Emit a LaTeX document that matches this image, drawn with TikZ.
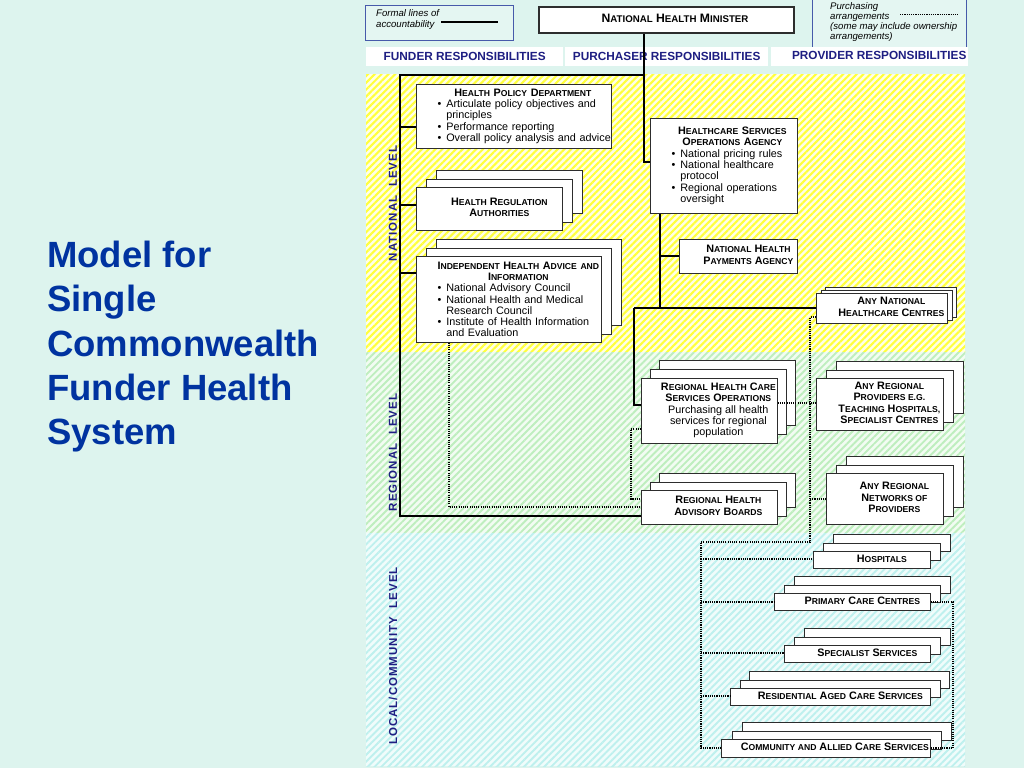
\documentclass[tikz,border=0pt]{standalone}
\usepackage{fontspec}
\setmainfont{Liberation Sans}
\newfontfamily\lvlfont[LetterSpace=9]{Liberation Sans}
\usetikzlibrary{shadows,patterns.meta}
\definecolor{mint}{RGB}{221,244,238}
\definecolor{ttl}{RGB}{0,51,160}
\definecolor{navy}{RGB}{30,30,130}
\definecolor{yel}{RGB}{255,255,60}
\definecolor{yelbase}{RGB}{255,255,230}
\definecolor{grn}{RGB}{190,238,190}
\definecolor{grnbase}{RGB}{242,252,242}
\definecolor{cyn}{RGB}{190,240,238}
\definecolor{cynbase}{RGB}{240,252,251}
\definecolor{legfill}{RGB}{228,246,242}
\definecolor{legline}{RGB}{70,90,170}
\definecolor{boxline}{RGB}{45,45,45}
\def\smcsize{8.6}
\newcommand\smc[1]{{\fontsize{\smcsize}{11.3}\selectfont #1}}
\newcommand\tbx[2]{\begin{tabular}{@{\hspace{#1}}c@{}}#2\end{tabular}}
\newcommand\rgl[1]{{\mdseries\fontsize{10.8}{11.3}\selectfont #1}}
\newcommand\ctl[2]{{\leftskip=#1 plus 1fil\rightskip=0pt plus 1fil\parfillskip=0pt\parindent=0pt\noindent #2\par}}
\newcommand\bul[1]{{\mdseries\leftskip=30pt\rightskip=0pt plus 1fil\parindent=0pt\noindent\llap{\textbullet\hspace{5pt}}#1\par}}
\begin{document}
\begin{tikzpicture}[x=1pt,y=-1pt,
  ubox/.style={draw=boxline, fill=white, line width=0.7pt, inner sep=0pt, anchor=north west,
    font=\bfseries\fontsize{10.8}{11.3}\selectfont},
  layered/.style n args={2}{
    copy shadow={shadow xshift=2*#1, shadow yshift=-2*#2, fill=white, draw=boxline, line width=0.7pt},
    copy shadow={shadow xshift=#1, shadow yshift=-#2, fill=white, draw=boxline, line width=0.7pt}},
  hdr/.style={fill=white, inner sep=0pt, anchor=north west, text=navy,
    font=\bfseries\fontsize{11.8}{13}\selectfont},
  legbox/.style={draw=legline, fill=legfill, line width=0.7pt, inner sep=0pt, anchor=north west},
  legtext/.style={anchor=north west, inner sep=0pt, align=left},
  lvl/.style={text=navy, inner sep=0pt, rotate=90, font=\lvlfont\bfseries\fontsize{11.5}{12}\selectfont},
  acc/.style={line width=1.4pt, black},
  pur/.style={line width=1.1pt, black, dash pattern=on 1.1pt off 1.1pt}
]
\useasboundingbox (0,0) rectangle (1024,768);
\fill[mint] (0,0) rectangle (1024,768);

% level bands
\fill[yelbase] (366,74) rectangle (965,352);
\fill[pattern={Lines[angle=45,distance=4.8pt,line width=2.1pt]}, pattern color=yel] (366,74) rectangle (965,352);
\fill[grnbase] (366,352) rectangle (965,533);
\fill[pattern={Lines[angle=45,distance=4.8pt,line width=1.9pt]}, pattern color=grn] (366,352) rectangle (965,533);
\fill[cynbase] (366,533) rectangle (965,766);
\fill[pattern={Lines[angle=45,distance=4.8pt,line width=1.9pt]}, pattern color=cyn] (366,533) rectangle (965,766);

% title
\node[anchor=north west, align=left, text=ttl, inner sep=0pt,
  font=\bfseries\fontsize{36.5}{44.3}\selectfont] (title) at (47,241)
  {Model for\\Single\\Commonwealth\\Funder Health\\System};

% legends
\node[legbox, minimum width=148, minimum height=35] (leg1) at (365,5) {};
\node[legtext, font=\itshape\fontsize{9.6}{11}\selectfont] (leg1t) at (376,9.5) {Formal lines of\\accountability};
\coordinate (la) at (441,22);
\coordinate (lb) at (498,22);
\draw[acc, line width=1.2pt] (la) -- (lb);

\node[legbox, minimum width=154, minimum height=52] (leg2) at (812,-4) {};
\node[legtext, font=\itshape\fontsize{9.6}{10}\selectfont] (leg2t) at (830,2.4)
  {Purchasing\\arrangements\\(some may include ownership\\arrangements)};
\coordinate (lc) at (900,14);
\coordinate (ld) at (958,14);
\draw[pur, line width=0.9pt] (lc) -- (ld);

% header
\node[hdr, minimum width=197, minimum height=19] (hfund) at (366,47) {FUNDER RESPONSIBILITIES};
\node[hdr, minimum width=203, minimum height=19] (hpurch) at (565,47) {PURCHASER RESPONSIBILITIES};
\node[hdr, minimum width=197, minimum height=19] (hprov) at (771,47) {\tbx{19pt}{PROVIDER RESPONSIBILITIES}};

% level labels
\node[lvl] (natl) at (393,203.5) {NATIONAL~~LEVEL};
\node[lvl] (regl) at (393,452.5) {REGIONAL~~LEVEL};
\node[lvl] (locl) at (393,656) {LOCAL/COMMUNITY~~LEVEL};

% minister
\node[ubox, line width=2pt, minimum width=255, minimum height=26,
  font=\bfseries\fontsize{12.2}{13}\selectfont\def\smcsize{9.7}] (minister) at (538,6)
  {\tbx{17pt}{N\smc{ATIONAL} H\smc{EALTH} M\smc{INISTER}}};

% national level boxes
\node[ubox, minimum width=195, minimum height=64, text width=195pt] (hpd) at (416,84)
  {\ctl{18pt}{H\smc{EALTH} P\smc{OLICY} D\smc{EPARTMENT}}%
   \bul{Articulate policy objectives and\newline principles}%
   \bul{Performance reporting}%
   \bul{Overall policy analysis and advice}};
\node[ubox, layered={10}{8.5}, minimum width=146, minimum height=43] (hra) at (416,187)
  {\tbx{20pt}{H\smc{EALTH} R\smc{EGULATION}\\A\smc{UTHORITIES}}};
\node[ubox, layered={10}{8.5}, minimum width=185, minimum height=86, text width=185pt] (ihai) at (416,256)
  {\ctl{19pt}{I\smc{NDEPENDENT} H\smc{EALTH} A\smc{DVICE AND}}%
   \ctl{19pt}{I\smc{NFORMATION}}%
   \bul{National Advisory Council}%
   \bul{National Health and Medical\newline Research Council}%
   \bul{Institute of Health Information\newline and Evaluation}};
\node[ubox, minimum width=147, minimum height=95, text width=147pt] (hsoa) at (650,118)
  {\ctl{17pt}{H\smc{EALTHCARE} S\smc{ERVICES}}%
   \ctl{17pt}{O\smc{PERATIONS} A\smc{GENCY}}%
   \bul{National pricing rules}%
   \bul{National healthcare\newline protocol}%
   \bul{Regional operations\newline oversight}};
\node[ubox, minimum width=118, minimum height=34] (nhpa) at (679,239)
  {\tbx{20pt}{N\smc{ATIONAL} H\smc{EALTH}\\P\smc{AYMENTS} A\smc{GENCY}}};
\node[ubox, layered={4.5}{3}, minimum width=131, minimum height=30] (anhc) at (816,293)
  {\tbx{19pt}{A\smc{NY} N\smc{ATIONAL}\\H\smc{EALTHCARE} C\smc{ENTRES}}};

% regional level boxes
\node[ubox, layered={9}{9}, minimum width=136, minimum height=65] (rhcso) at (641,378)
  {\tbx{18pt}{R\smc{EGIONAL} H\smc{EALTH} C\smc{ARE}\\S\smc{ERVICES} O\smc{PERATIONS}\\
   \rgl{Purchasing all health}\\\rgl{services for regional}\\\rgl{population}}};
\node[ubox, layered={9}{8.5}, minimum width=136, minimum height=34] (rhab) at (641,490)
  {\tbx{18pt}{R\smc{EGIONAL} H\smc{EALTH}\\A\smc{DVISORY} B\smc{OARDS}}};
\node[ubox, layered={10}{8.5}, minimum width=127, minimum height=52] (arp) at (816,378)
  {\tbx{19pt}{A\smc{NY} R\smc{EGIONAL}\\P\smc{ROVIDERS E.G.}\\T\smc{EACHING} H\smc{OSPITALS,}\\S\smc{PECIALIST} C\smc{ENTRES}}};
\node[ubox, layered={10}{8.5}, minimum width=117, minimum height=51] (arnp) at (826,473)
  {\tbx{19pt}{A\smc{NY} R\smc{EGIONAL}\\N\smc{ETWORKS OF}\\P\smc{ROVIDERS}}};

% local level boxes
\node[ubox, layered={10}{8.5}, minimum width=117, minimum height=17] (hosp) at (813,551)
  {\tbx{20pt}{H\smc{OSPITALS}}};
\node[ubox, layered={10}{8.5}, minimum width=156, minimum height=17] (prim) at (774,593)
  {\tbx{20pt}{P\smc{RIMARY} C\smc{ARE} C\smc{ENTRES}}};
\node[ubox, layered={10}{8.5}, minimum width=146, minimum height=17] (spec) at (784,645)
  {\tbx{20pt}{S\smc{PECIALIST} S\smc{ERVICES}}};
\node[ubox, layered={9.5}{8.5}, minimum width=200, minimum height=17] (resid) at (730,688)
  {\tbx{20pt}{R\smc{ESIDENTIAL} A\smc{GED} C\smc{ARE} S\smc{ERVICES}}};
\node[ubox, layered={10.5}{8.5}, minimum width=209, minimum height=18] (comm) at (721,739)
  {\tbx{18pt}{C\smc{OMMUNITY AND} A\smc{LLIED} C\smc{ARE} S\smc{ERVICES}}};

% junction coordinates
\coordinate (mA) at (644,162);
\coordinate (sT) at (400,75);
\coordinate (sB) at (400,516);
\coordinate (b1) at (400,127);
\coordinate (b2) at (400,205);
\coordinate (b3) at (400,273);
\coordinate (hA) at (660,308);
\coordinate (hB) at (660,256);
\coordinate (rA) at (634,308);
\coordinate (rB) at (634,405);
\coordinate (dA) at (449,507);
\coordinate (dB) at (631,429);
\coordinate (dC) at (631,499);
\coordinate (dD) at (790,403);
\coordinate (eA) at (810,317);
\coordinate (eB) at (810,542);
\coordinate (eC) at (701,542);
\coordinate (eD) at (701,748);
\coordinate (eE) at (810,499);
\coordinate (f1) at (701,559);
\coordinate (f2) at (701,602);
\coordinate (f3) at (701,653);
\coordinate (f4) at (701,696);
\coordinate (gA) at (953,602);
\coordinate (gB) at (953,748);

% formal lines of accountability
\draw[acc] (minister.south -| mA) -- (mA) -- (mA -| hsoa.west);
\draw[acc] (sT -| mA) -- (sT) -- (sB) -- (sB -| rhab.west);
\draw[acc] (b1) -- (b1 -| hpd.west);
\draw[acc] (b2) -- (b2 -| hra.west);
\draw[acc] (b3) -- (b3 -| ihai.west);
\draw[acc] (hsoa.south -| hA) -- (hA);
\draw[acc] (hB) -- (hB -| nhpa.west);
\draw[acc] (rA) -- (rA -| anhc.west);
\draw[acc] (rA) -- (rB) -- (rB -| rhcso.west);

% purchasing arrangements
\draw[pur] (ihai.south -| dA) -- (dA) -- (dA -| rhab.west);
\draw[pur] (dB -| rhcso.west) -- (dB) -- (dC) -- (dC -| rhab.west);
\draw[pur] (rhcso.east |- dD) -- (arp.west |- dD);
\draw[pur] (eA -| anhc.west) -- (eA) -- (eB) -- (eC) -- (eD) -- (eD -| comm.west);
\draw[pur] (eE) -- (eE -| arnp.west);
\draw[pur] (f1) -- (f1 -| hosp.west);
\draw[pur] (f2) -- (f2 -| prim.west);
\draw[pur] (f3) -- (f3 -| spec.west);
\draw[pur] (f4) -- (f4 -| resid.west);
\draw[pur] (gA -| prim.east) -- (gA) -- (gB) -- (gB -| comm.east);
\end{tikzpicture}
\end{document}
